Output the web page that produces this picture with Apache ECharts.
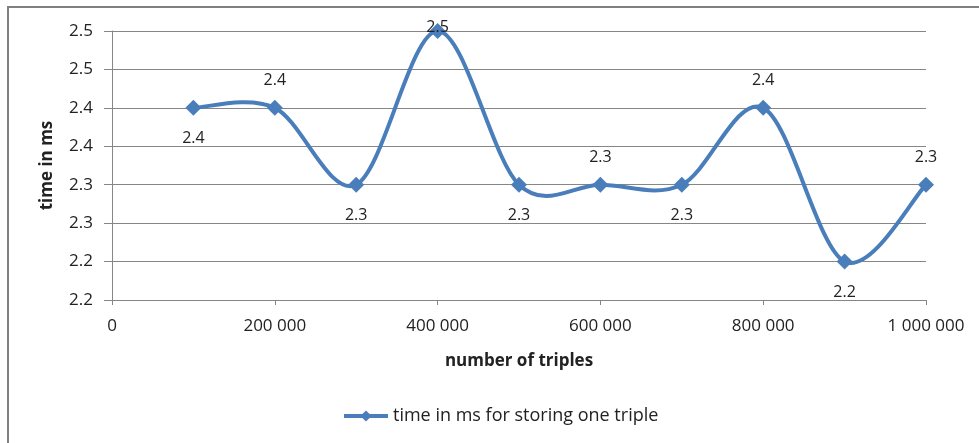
<!DOCTYPE html>
<html>
<head>
<meta charset="utf-8">
<script src="https://cdn.jsdelivr.net/npm/echarts@6/dist/echarts.min.js"></script>
<style>
  html, body { margin: 0; padding: 0; background: #fff; }
  #chart { width: 979px; height: 443px; }
</style>
</head>
<body>
<div id="chart"></div>
<script>
// data
var triples = [100000, 200000, 300000, 400000, 500000, 600000, 700000, 800000, 900000, 1000000];
var timeMs = [2.4, 2.4, 2.3, 2.5, 2.3, 2.3, 2.3, 2.4, 2.2, 2.3];
// where each value label sits (Excel alternated them)
var labelSide = ['bottom', 'top', 'bottom', 'top', 'bottom', 'top', 'bottom', 'top', 'bottom', 'top'];

var font = '"Open Sans", "Liberation Sans", sans-serif';
var blue = '#4a7ebb';
var seriesName = 'time in ms for storing one triple';

var points = triples.map(function (x, i) {
    var lbl = { position: labelSide[i], distance: labelSide[i] === 'top' ? 11 : 15 };
    if (i === 3) { lbl.distance = -12; }
    return { value: [x, timeMs[i]], label: lbl };
});

// excel-like smoothed line (catmull-rom as bezier), drawn from the axis coords
function renderSpline(params, api) {
    if (params.dataIndex !== 0) {
        return null;
    }
    var p = triples.map(function (x, i) { return api.coord([x, timeMs[i]]); });
    var n = p.length;
    var d = 'M' + p[0][0] + ' ' + p[0][1];
    for (var i = 0; i < n - 1; i++) {
        var a = p[Math.max(i - 1, 0)], b = p[i], c = p[i + 1], e = p[Math.min(i + 2, n - 1)];
        var c1x = b[0] + (c[0] - a[0]) / 6, c1y = b[1] + (c[1] - a[1]) / 6;
        var c2x = c[0] - (e[0] - b[0]) / 6, c2y = c[1] - (e[1] - b[1]) / 6;
        d += ' C' + c1x + ' ' + c1y + ' ' + c2x + ' ' + c2y + ' ' + c[0] + ' ' + c[1];
    }
    return {
        type: 'path',
        shape: { pathData: d },
        style: { fill: 'none', stroke: blue, lineWidth: 4 }
    };
}

var myChart = echarts.init(document.getElementById('chart'));
var option = {
    animation: false,
    textStyle: { fontFamily: font },
    graphic: [{
        type: 'rect',
        shape: { x: 8, y: 7, width: 1000, height: 500 },
        style: { fill: 'none', stroke: '#808080', lineWidth: 2 }
    }],
    grid: { left: 112, right: 53, top: 31, bottom: 143 },
    legend: {
        bottom: 13,
        left: 337,
        itemWidth: 44,
        itemHeight: 14,
        itemGap: 4,
        lineStyle: { color: blue, width: 4, opacity: 1 },
        textStyle: { fontFamily: font, fontSize: 18, color: '#222' },
        data: [seriesName]
    },
    xAxis: {
        type: 'value',
        min: 0,
        max: 1000000,
        interval: 200000,
        name: 'number of triples',
        nameLocation: 'middle',
        nameGap: 53,
        nameTextStyle: { fontFamily: font, fontWeight: 'bold', fontSize: 17, color: '#222' },
        axisLine: { lineStyle: { color: '#868686' } },
        axisTick: { show: true, length: 5, lineStyle: { color: '#868686' } },
        axisLabel: {
            margin: 18,
            fontSize: 17,
            color: '#222',
            formatter: function (v) {
                return String(v).replace(/\B(?=(\d{3})+(?!\d))/g, ' ');
            }
        },
        splitLine: { show: false }
    },
    yAxis: {
        type: 'value',
        min: 2.15,
        max: 2.5,
        interval: 0.05,
        name: 'time in ms',
        nameLocation: 'middle',
        nameGap: 56,
        nameRotate: 90,
        nameTextStyle: { fontFamily: font, fontWeight: 'bold', fontSize: 17, color: '#222' },
        axisLine: { show: true, lineStyle: { color: '#868686' } },
        axisTick: { show: true, length: 8, lineStyle: { color: '#868686' } },
        axisLabel: {
            margin: 19,
            fontSize: 17,
            color: '#222',
            formatter: function (v) {
                return (Math.round(v * 10 + 1e-6) / 10).toFixed(1);
            }
        },
        splitLine: { show: true, lineStyle: { color: '#868686' } }
    },
    series: [{
        type: 'custom',
        name: 'spline',
        z: 1,
        silent: true,
        data: triples.map(function (x, i) { return [x, timeMs[i]]; }),
        renderItem: renderSpline
    }, {
        name: seriesName,
        type: 'line',
        z: 2,
        data: points,
        symbol: 'diamond',
        symbolSize: 16,
        itemStyle: { color: blue },
        lineStyle: { color: blue, width: 4, opacity: 0 },
        label: {
            show: true,
            fontSize: 16,
            color: '#222',
            formatter: function (p) { return p.value[1].toFixed(1); }
        }
    }]
};
myChart.setOption(option);
</script>
</body>
</html>
